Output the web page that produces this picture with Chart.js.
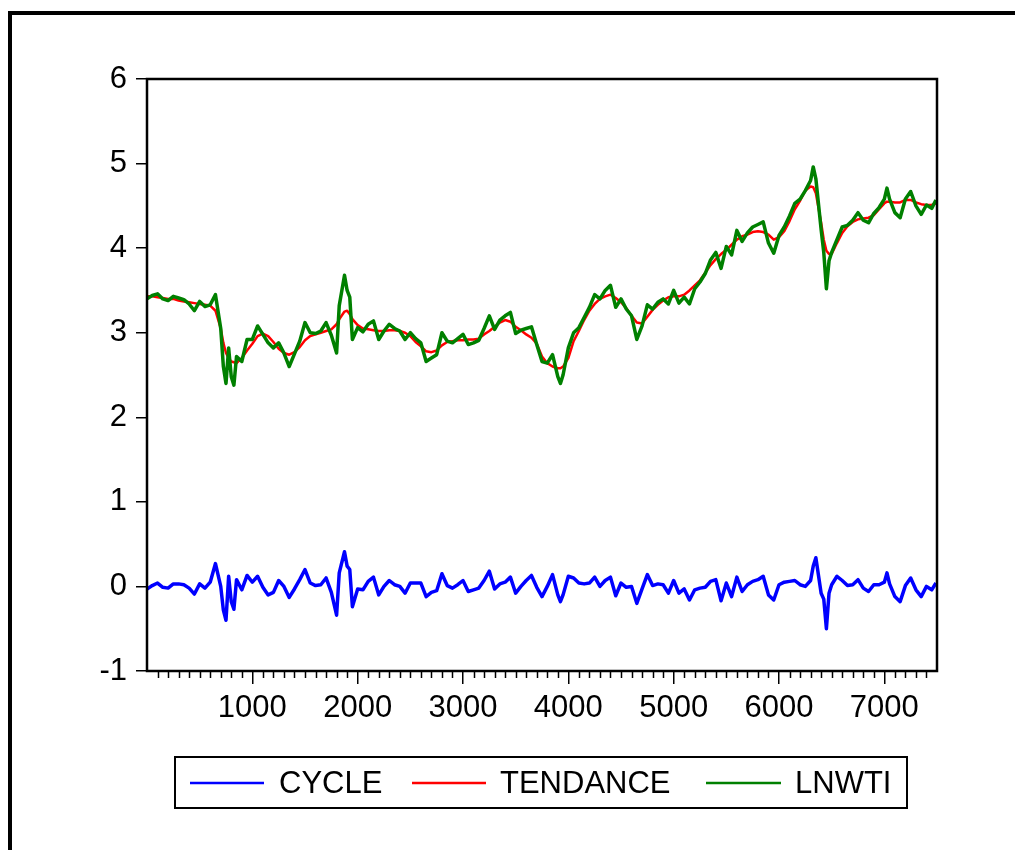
<!DOCTYPE html>
<html>
<head>
<meta charset="utf-8">
<title>CYCLE / TENDANCE / LNWTI</title>
<script src="https://cdn.jsdelivr.net/npm/chart.js@4.4.1/dist/chart.umd.min.js"></script>
<style>
  html, body { margin: 0; padding: 0; background: #fff; }
  #wrap { width: 1015px; height: 850px; }
</style>
</head>
<body>
<div id="wrap"><canvas id="chart" width="1015" height="850"></canvas></div>
<script>
// observation index (x axis)
const obs = [
  0, 50, 100, 150, 200, 250, 300, 350, 400, 450,
  500, 550, 600, 650, 700, 725, 750, 775, 800, 825,
  850, 900, 950, 1000, 1050, 1100, 1150, 1200, 1250, 1300,
  1350, 1400, 1450, 1500, 1550, 1600, 1650, 1700, 1750, 1800,
  1825, 1875, 1900, 1925, 1950, 2000, 2050, 2100, 2150, 2200,
  2250, 2300, 2350, 2400, 2450, 2500, 2550, 2600, 2650, 2700,
  2750, 2800, 2850, 2900, 2950, 3000, 3050, 3100, 3150, 3200,
  3250, 3300, 3350, 3400, 3450, 3500, 3550, 3600, 3650, 3700,
  3750, 3800, 3850, 3900, 3925, 3950, 4000, 4050, 4100, 4150,
  4200, 4250, 4300, 4350, 4400, 4450, 4500, 4550, 4600, 4650,
  4700, 4750, 4800, 4850, 4900, 4950, 5000, 5050, 5100, 5150,
  5200, 5250, 5300, 5350, 5400, 5450, 5500, 5550, 5600, 5650,
  5700, 5750, 5800, 5850, 5900, 5950, 6000, 6050, 6100, 6150,
  6200, 6250, 6300, 6325, 6350, 6400, 6425, 6450, 6475, 6500,
  6550, 6600, 6650, 6700, 6750, 6800, 6850, 6900, 6950, 7000,
  7025, 7050, 7100, 7150, 7200, 7250, 7300, 7350, 7400, 7450, 7490
];

const tendance = [
  3.43, 3.43, 3.42, 3.41, 3.40, 3.40, 3.38, 3.37, 3.36, 3.35,
  3.34, 3.33, 3.32, 3.26, 3.05, 2.88, 2.76, 2.70, 2.66, 2.65,
  2.64, 2.70, 2.79, 2.87, 2.96, 2.99, 2.96, 2.89, 2.81, 2.76,
  2.74, 2.77, 2.83, 2.91, 2.96, 2.98, 3.00, 3.02, 3.04, 3.10,
  3.16, 3.25, 3.26, 3.22, 3.16, 3.09, 3.05, 3.04, 3.03, 3.02,
  3.02, 3.03, 3.03, 3.02, 3.00, 2.96, 2.89, 2.84, 2.78, 2.77,
  2.79, 2.85, 2.89, 2.90, 2.91, 2.91, 2.92, 2.92, 2.93, 2.98,
  3.02, 3.07, 3.12, 3.15, 3.13, 3.07, 3.03, 2.98, 2.94, 2.87,
  2.72, 2.64, 2.60, 2.58, 2.58, 2.60, 2.70, 2.90, 3.02, 3.15,
  3.26, 3.34, 3.40, 3.43, 3.45, 3.41, 3.36, 3.29, 3.20, 3.12,
  3.11, 3.19, 3.27, 3.33, 3.38, 3.42, 3.43, 3.43, 3.45, 3.50,
  3.56, 3.62, 3.71, 3.80, 3.87, 3.93, 3.98, 4.04, 4.10, 4.14,
  4.16, 4.19, 4.20, 4.19, 4.16, 4.10, 4.13, 4.20, 4.32, 4.46,
  4.56, 4.68, 4.73, 4.72, 4.65, 4.30, 4.10, 3.97, 3.93, 3.93,
  4.06, 4.18, 4.26, 4.31, 4.34, 4.35, 4.36, 4.39, 4.46, 4.53,
  4.55, 4.55, 4.54, 4.54, 4.57, 4.57, 4.54, 4.52, 4.51, 4.51, 4.53
];

const lnwti = [
  3.40, 3.44, 3.46, 3.40, 3.38, 3.43, 3.41, 3.39, 3.34, 3.26,
  3.37, 3.31, 3.33, 3.45, 3.05, 2.60, 2.40, 2.82, 2.48, 2.38,
  2.72, 2.66, 2.92, 2.92, 3.08, 2.98, 2.88, 2.82, 2.88, 2.76,
  2.60, 2.75, 2.90, 3.12, 3.00, 2.99, 3.02, 3.12, 2.97, 2.76,
  3.32, 3.68, 3.50, 3.42, 2.92, 3.06, 3.01, 3.10, 3.14, 2.92,
  3.02, 3.10, 3.05, 3.02, 2.92, 3.00, 2.93, 2.88, 2.66, 2.70,
  2.74, 3.00, 2.90, 2.88, 2.93, 2.98, 2.86, 2.88, 2.91, 3.05,
  3.20, 3.04, 3.15, 3.20, 3.24, 2.99, 3.03, 3.05, 3.07, 2.86,
  2.66, 2.64, 2.74, 2.48, 2.40, 2.50, 2.82, 3.00, 3.06, 3.18,
  3.30, 3.45, 3.40, 3.50, 3.56, 3.30, 3.40, 3.28, 3.20, 2.92,
  3.08, 3.33, 3.28, 3.36, 3.40, 3.34, 3.50, 3.35, 3.42, 3.34,
  3.52, 3.60, 3.70, 3.86, 3.95, 3.76, 4.02, 3.92, 4.21, 4.08,
  4.18, 4.25, 4.28, 4.31, 4.06, 3.94, 4.15, 4.25, 4.38, 4.53,
  4.58, 4.68, 4.80, 4.96, 4.82, 4.22, 3.95, 3.52, 3.85, 3.95,
  4.10, 4.25, 4.27, 4.33, 4.42, 4.33, 4.30, 4.41, 4.48, 4.58,
  4.71, 4.58, 4.42, 4.36, 4.58, 4.67, 4.50, 4.40, 4.51, 4.47, 4.57
];

const cycle = [
  -0.03, 0.01, 0.04, -0.01, -0.02, 0.03, 0.03, 0.02, -0.02, -0.09,
  0.03, -0.02, 0.05, 0.27, 0.00, -0.28, -0.40, 0.12, -0.18, -0.27,
  0.08, -0.04, 0.13, 0.05, 0.12, -0.01, -0.10, -0.07, 0.07, 0.00,
  -0.13, -0.03, 0.08, 0.20, 0.04, 0.01, 0.02, 0.10, -0.07, -0.34,
  0.16, 0.41, 0.24, 0.20, -0.24, -0.03, -0.04, 0.06, 0.11, -0.10,
  0.00, 0.07, 0.02, 0.00, -0.08, 0.04, 0.04, 0.04, -0.12, -0.07,
  -0.05, 0.15, 0.01, -0.02, 0.02, 0.07, -0.06, -0.04, -0.02, 0.07,
  0.18, -0.03, 0.03, 0.05, 0.11, -0.08, 0.00, 0.07, 0.13, -0.01,
  -0.12, 0.00, 0.14, -0.10, -0.18, -0.10, 0.12, 0.10, 0.04, 0.03,
  0.04, 0.11, 0.00, 0.07, 0.11, -0.11, 0.04, -0.01, 0.00, -0.20,
  -0.03, 0.14, 0.01, 0.03, 0.02, -0.08, 0.07, -0.08, -0.03, -0.16,
  -0.04, -0.02, -0.01, 0.06, 0.08, -0.17, 0.04, -0.12, 0.11, -0.06,
  0.02, 0.06, 0.08, 0.12, -0.10, -0.16, 0.02, 0.05, 0.06, 0.07,
  0.02, 0.00, 0.07, 0.24, 0.34, -0.08, -0.15, -0.50, -0.08, 0.02,
  0.12, 0.07, 0.01, 0.02, 0.08, -0.02, -0.06, 0.02, 0.02, 0.05,
  0.16, 0.03, -0.12, -0.18, 0.01, 0.10, -0.04, -0.12, 0.00, -0.04, 0.04
];

const xTicks = [1000, 2000, 3000, 4000, 5000, 6000, 7000];
const yTicks = [-1, 0, 1, 2, 3, 4, 5, 6];
const minorStep = 100;

const toPoints = vals => obs.map((x, i) => ({ x: x, y: vals[i] }));

Chart.defaults.font.family = '"Liberation Sans", Arial, sans-serif';
Chart.defaults.color = '#000';

// cadre, bordure du graphique, petites graduations et légende
const decor = {
  id: 'decor',
  afterDraw(chart) {
    const ctx = chart.ctx;
    const a = chart.chartArea;
    const sx = chart.scales.x;
    ctx.save();
    ctx.fillStyle = '#000';
    ctx.fillRect(8, 11, 1007, 4);
    ctx.fillRect(8, 11, 4, 839);

    ctx.strokeStyle = '#000';
    ctx.lineWidth = 2.5;
    ctx.strokeRect(a.left, a.top, a.right - a.left, a.bottom - a.top);

    ctx.lineWidth = 1.5;
    for (let v = minorStep; v < sx.max; v += minorStep) {
      if (v % 1000 === 0) continue;
      const px = Math.round(sx.getPixelForValue(v)) + 0.5;
      ctx.beginPath();
      ctx.moveTo(px, a.bottom);
      ctx.lineTo(px, a.bottom + 7);
      ctx.stroke();
    }

    // légende
    ctx.lineWidth = 2;
    ctx.strokeRect(175, 757, 732, 51);
    const items = [
      { ds: 0, x0: 190, x1: 264, tx: 279 },
      { ds: 1, x0: 412, x1: 486, tx: 500 },
      { ds: 2, x0: 706, x1: 781, tx: 795 }
    ];
    ctx.font = '31px "Liberation Sans", Arial, sans-serif';
    ctx.textBaseline = 'middle';
    items.forEach(it => {
      const d = chart.data.datasets[it.ds];
      ctx.strokeStyle = d.borderColor;
      ctx.lineWidth = 2.5;
      ctx.beginPath();
      ctx.moveTo(it.x0, 783);
      ctx.lineTo(it.x1, 783);
      ctx.stroke();
      ctx.fillStyle = '#000';
      ctx.fillText(d.label, it.tx, 784);
    });
    ctx.restore();
  }
};

new Chart(document.getElementById('chart'), {
  type: 'line',
  data: {
    datasets: [{
      label: 'CYCLE',
      data: toPoints(cycle),
      borderColor: '#0000ff',
      borderWidth: 3.5,
      order: 3
    }, {
      label: 'TENDANCE',
      data: toPoints(tendance),
      borderColor: '#ff0000',
      borderWidth: 2.5,
      order: 2
    }, {
      label: 'LNWTI',
      data: toPoints(lnwti),
      borderColor: '#008000',
      borderWidth: 3.5,
      order: 1
    }]
  },
  options: {
    responsive: false,
    animation: false,
    devicePixelRatio: 1,
    layout: { padding: { left: 0, top: 79, right: 78, bottom: 119 } },
    elements: { point: { radius: 0 }, line: { tension: 0, borderJoinStyle: 'round' } },
    plugins: { legend: { display: false }, tooltip: { enabled: false } },
    scales: {
      x: {
        type: 'linear',
        min: 0,
        max: 7500,
        afterBuildTicks: s => { s.ticks = xTicks.map(v => ({ value: v })); },
        afterFit: s => { s.height = 60; },
        ticks: { font: { size: 31 }, padding: 6, maxRotation: 0, callback: v => String(v) },
        grid: { drawOnChartArea: false, drawTicks: true, tickLength: 13, color: '#000', lineWidth: 1.5 },
        border: { display: true, color: '#000', width: 2 }
      },
      y: {
        min: -1,
        max: 6,
        afterBuildTicks: s => { s.ticks = yTicks.map(v => ({ value: v })); },
        afterFit: s => { s.width = 147; },
        ticks: { font: { size: 31 }, padding: 9, callback: v => String(v) },
        grid: { drawOnChartArea: false, drawTicks: true, tickLength: 11, color: '#000', lineWidth: 1.5 },
        border: { display: true, color: '#000', width: 2 }
      }
    }
  },
  plugins: [decor]
});
</script>
</body>
</html>
